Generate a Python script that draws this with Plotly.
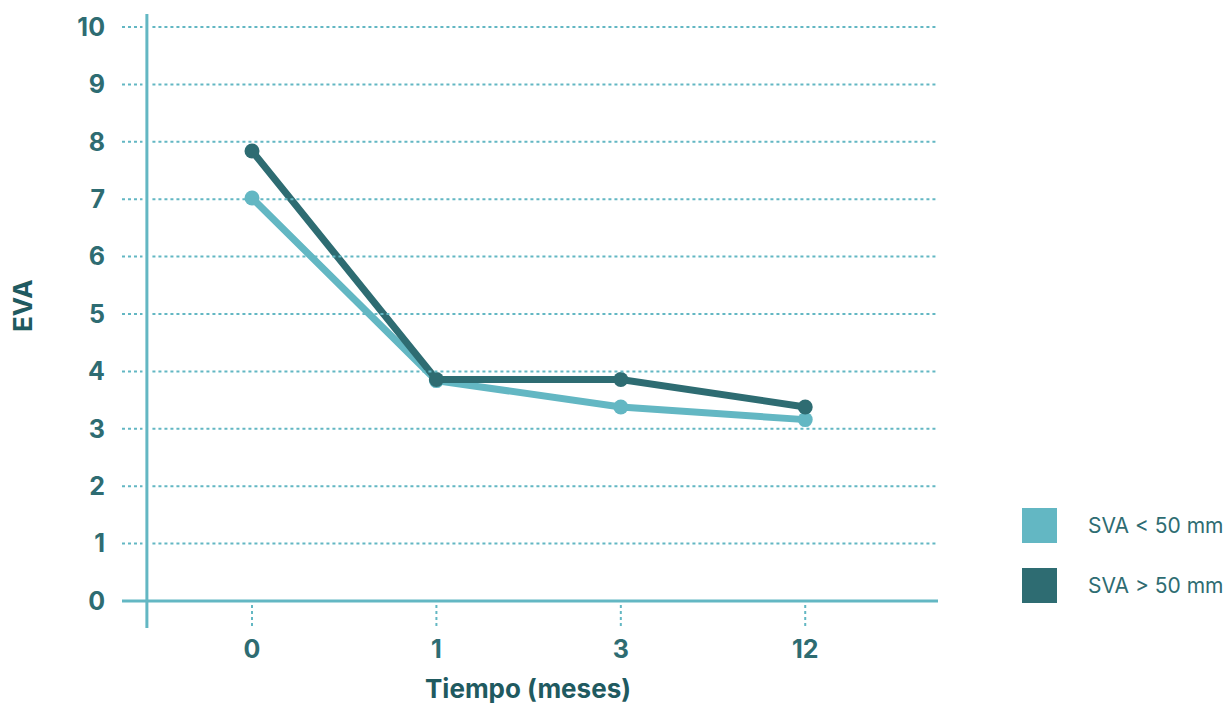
import plotly.graph_objects as go

# Data
meses = ["0", "1", "3", "12"]
eva_menor_50 = [7.02, 3.84, 3.38, 3.16]
eva_mayor_50 = [7.84, 3.86, 3.86, 3.38]
series_names = ["SVA < 50 mm", "SVA > 50 mm"]
y_ticks = list(range(0, 11))

LIGHT = "#63b7c3"
DARK = "#2e6c72"
TXT = "#2e6c72"
TITLE = "#1f5a60"
FONT = "Inter"

x_pos = list(range(len(meses)))

fig = go.Figure()
for vals, color, name in [(eva_menor_50, LIGHT, series_names[0]),
                          (eva_mayor_50, DARK, series_names[1])]:
    fig.add_trace(go.Scatter(
        x=x_pos, y=vals, mode="lines+markers", name=name,
        line=dict(color=color, width=7),
        marker=dict(color=color, size=15),
        showlegend=False,
    ))

X_MIN, X_MAX = -0.705, 3.72
Y_MIN, Y_MAX = -0.47, 10.226
Y_AXIS_X = -0.57

shapes = []
# dotted gridlines, broken around the vertical axis line
for t in y_ticks[1:]:
    shapes.append(dict(type="line", xref="x", yref="y", x0=X_MIN, x1=-0.594,
                       y0=t, y1=t, line=dict(color=LIGHT, width=2, dash="dot")))
    shapes.append(dict(type="line", xref="x", yref="y", x0=-0.54, x1=X_MAX,
                       y0=t, y1=t, line=dict(color=LIGHT, width=2, dash="dot")))
# dotted x ticks below the baseline
for xp in x_pos:
    shapes.append(dict(type="line", xref="x", yref="y", x0=xp, x1=xp,
                       y0=-0.07, y1=-0.45, line=dict(color=LIGHT, width=2, dash="dot")))
# axis lines
shapes.append(dict(type="line", xref="paper", yref="y", x0=0, x1=1, y0=0, y1=0,
                   line=dict(color=LIGHT, width=3)))
shapes.append(dict(type="line", xref="x", yref="paper", x0=Y_AXIS_X, x1=Y_AXIS_X,
                   y0=0, y1=1, line=dict(color=LIGHT, width=3)))

fig.update_layout(
    width=1229, height=704,
    margin=dict(l=122, r=291, t=14, b=76),
    plot_bgcolor="white", paper_bgcolor="white",
    xaxis=dict(range=[X_MIN, X_MAX], tickvals=x_pos, ticktext=meses,
               showgrid=False, zeroline=False, showline=False, ticks="",
               ticklabelstandoff=4,
               tickfont=dict(family=FONT, size=25, color=TXT, weight="bold")),
    yaxis=dict(range=[Y_MIN, Y_MAX], tickvals=y_ticks,
               showgrid=False, zeroline=False, showline=False, ticks="",
               ticklabelstandoff=16,
               tickfont=dict(family=FONT, size=25, color=TXT, weight="bold")),
    shapes=shapes,
    showlegend=False,
)

# legend squares and labels, positioned in pixels then converted to paper coordinates
pl, pt, pw, ph = 122, 14, 1229 - 122 - 291, 704 - 14 - 76
def px_x(x):
    return (x - pl) / pw
def px_y(y):
    return 1 - (y - pt) / ph

for i, (name, color) in enumerate(zip(series_names, [LIGHT, DARK])):
    top = 508 + i * 60
    fig.add_shape(type="rect", xref="paper", yref="paper",
                  x0=px_x(1022), x1=px_x(1057), y0=px_y(top + 35), y1=px_y(top),
                  fillcolor=color, line=dict(width=0))
    fig.add_annotation(xref="paper", yref="paper", x=px_x(1086), y=px_y(top + 17.5),
                       text=name, showarrow=False, xanchor="left", yanchor="middle",
                       font=dict(family=FONT, size=21, color=TXT))

# axis titles
fig.add_annotation(xref="paper", yref="paper", x=px_x(528), y=px_y(688),
                   text="Tiempo (meses)", showarrow=False, xanchor="center", yanchor="middle",
                   font=dict(family=FONT, size=26, color=TITLE, weight="bold"))
fig.add_annotation(xref="paper", yref="paper", x=px_x(22), y=px_y(306),
                   text="EVA", showarrow=False, textangle=-90, xanchor="center", yanchor="middle",
                   font=dict(family=FONT, size=26, color=TITLE, weight="bold"))

fig.write_html("out.html")
